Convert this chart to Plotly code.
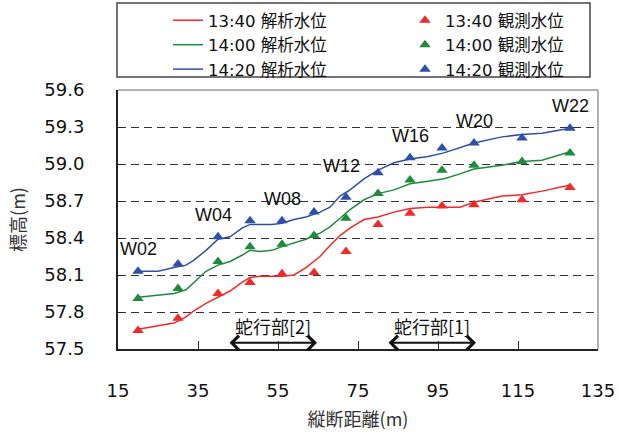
import plotly.graph_objects as go

# Longitudinal distance of the computed profile (m)
calc_x = [20, 25, 29, 32, 34, 37, 40, 43, 46, 48, 50.5, 53.5, 56, 59, 62, 65.5,
          68, 70.5, 73, 76.5, 80, 84, 88, 92.5, 96.5, 100.5, 104, 111, 116, 121, 128]
# Computed water levels (m)
calc_1340 = [57.66, 57.69, 57.71, 57.76, 57.81, 57.87, 57.92, 57.97, 58.04, 58.08, 58.09,
             58.09, 58.09, 58.10, 58.16, 58.25, 58.34, 58.42, 58.48, 58.55, 58.57, 58.61,
             58.64, 58.65, 58.65, 58.65, 58.69, 58.74, 58.75, 58.78, 58.83]
calc_1400 = [57.92, 57.94, 57.95, 57.98, 58.04, 58.13, 58.18, 58.21, 58.26, 58.30, 58.29,
             58.30, 58.33, 58.36, 58.39, 58.44, 58.49, 58.56, 58.63, 58.71, 58.76, 58.79,
             58.84, 58.86, 58.88, 58.92, 58.96, 58.99, 59.02, 59.03, 59.10]
calc_1420 = [58.13, 58.13, 58.16, 58.18, 58.22, 58.30, 58.39, 58.41, 58.48, 58.51, 58.51,
             58.51, 58.52, 58.55, 58.57, 58.61, 58.65, 58.74, 58.79, 58.88, 58.95, 59.01,
             59.04, 59.06, 59.09, 59.13, 59.17, 59.22, 59.24, 59.25, 59.29]

# Gauge stations and observed water levels (m)
obs_x = [20, 30, 40, 48, 56, 64, 72, 80, 88, 96, 104, 116, 128]
obs_1340 = [57.65, 57.75, 57.95, 58.04, 58.11, 58.12, 58.29, 58.51, 58.60, 58.66, 58.67, 58.71, 58.81]
obs_1400 = [57.91, 57.99, 58.21, 58.33, 58.35, 58.42, 58.56, 58.76, 58.87, 58.95, 58.99, 59.02, 59.09]
obs_1420 = [58.13, 58.19, 58.41, 58.54, 58.54, 58.61, 58.73, 58.93, 59.05, 59.13, 59.17, 59.21, 59.29]

# Labelled stations
station_names = ["W02", "W04", "W08", "W12", "W16", "W20", "W22"]
station_x = [20, 40, 56, 72, 88, 104, 128]
station_level = [58.13, 58.41, 58.54, 58.73, 59.05, 59.17, 59.29]

# Meandering reaches
meander_names = ["蛇行部[2]", "蛇行部[1]"]
meander_start = [42.5, 82.25]
meander_end = [64.75, 104.5]

x_ticks = [15, 35, 55, 75, 95, 115, 135]
y_ticks = [57.5, 57.8, 58.1, 58.4, 58.7, 59.0, 59.3, 59.6]

RED, GREEN, BLUE = "#ee2a2a", "#1f8a3e", "#2f4fa8"
FONT = "DejaVu Sans, Noto Sans CJK JP"
CJK = "Noto Sans CJK JP, DejaVu Sans"

W, H = 619, 436
ML, MR, MT, MB = 118, 21, 90, 87
PW, PH = W - ML - MR, H - MT - MB


def px_x(p):
    """Horizontal page pixel -> paper fraction."""
    return (p - ML) / PW


def px_y(p):
    """Vertical page pixel -> paper fraction."""
    return (H - MB - p) / PH


fig = go.Figure()
series = [("13:40", calc_1340, obs_1340, RED),
          ("14:00", calc_1400, obs_1400, GREEN),
          ("14:20", calc_1420, obs_1420, BLUE)]
for t, calc, obs, col in series:
    fig.add_trace(go.Scatter(x=calc_x, y=calc, mode="lines", name=f"{t} 解析水位",
                             legend="legend", legendgroup=f"c{t}",
                             line=dict(color=col, width=1.5)))
for t, calc, obs, col in series:
    fig.add_trace(go.Scatter(x=obs_x, y=obs, mode="markers", name=f"{t} 観測水位",
                             legend="legend2", legendgroup=f"o{t}",
                             marker=dict(symbol="triangle-up", size=10, color=col)))

annotations = []
for name, sx, sy in zip(station_names, station_x, station_level):
    lift = 31 if name == "W12" else 22
    nudge = -5 if name in ("W12", "W04") else 0
    annotations.append(dict(x=sx, y=sy, xref="x", yref="y", text=name, showarrow=False,
                            yshift=lift, xshift=nudge,
                            font=dict(family="Liberation Sans Narrow, Liberation Sans",
                                      size=18, color="#111")))
for name, x0, x1 in zip(meander_names, meander_start, meander_end):
    annotations.append(dict(x=x1, y=57.55, ax=x0, ay=57.55, xref="x", yref="y",
                            axref="x", ayref="y", text="", showarrow=True,
                            arrowhead=4, startarrowhead=4, arrowside="end+start",
                            arrowsize=1.4, startarrowsize=1.4, arrowwidth=2,
                            arrowcolor="#111"))
    annotations.append(dict(x=(x0 + x1) / 2, y=57.55, xref="x", yref="y", text=name,
                            showarrow=False, yshift=17,
                            font=dict(family=CJK, size=18, color="#111")))

legend_common = dict(orientation="v", yanchor="top", xanchor="left", y=px_y(3),
                     traceorder="normal", tracegroupgap=2,
                     font=dict(family=FONT, size=16.5, color="#111"),
                     bgcolor="rgba(0,0,0,0)", borderwidth=0)

shapes = [
    # legend frame
    dict(type="rect", xref="paper", yref="paper",
         x0=px_x(117), x1=px_x(590), y0=px_y(77), y1=px_y(3),
         line=dict(color="#444", width=1.5), fillcolor="rgba(0,0,0,0)"),
    # top and right edges of the plotting area
    dict(type="line", xref="paper", yref="paper", x0=0, x1=1, y0=1, y1=1,
         line=dict(color="#999", width=1.5)),
    dict(type="line", xref="paper", yref="paper", x0=1, x1=1, y0=0, y1=1,
         line=dict(color="#999", width=1.5)),
]

fig.update_layout(
    width=W, height=H,
    margin=dict(l=ML, r=MR, t=MT, b=MB, autoexpand=False),
    paper_bgcolor="white", plot_bgcolor="white",
    font=dict(family=FONT, size=18, color="#111"),
    showlegend=True,
    legend=dict(x=px_x(168), **legend_common),
    legend2=dict(x=px_x(405), **legend_common),
    shapes=shapes,
    annotations=annotations,
)
fig.update_xaxes(range=[15, 135], tickvals=x_ticks, ticktext=[str(v) for v in x_ticks],
                 ticks="inside", ticklen=8, tickcolor="#222", showgrid=False,
                 showline=True, linecolor="#222", linewidth=2, mirror=False,
                 ticklabelstandoff=24, zeroline=False, automargin=False,
                 title=dict(text="縦断距離(m)", font=dict(family=CJK, size=18, color="#333"),
                            standoff=14))
fig.update_yaxes(range=[57.5, 59.6], tickvals=y_ticks, ticktext=[f"{v:.1f}" for v in y_ticks],
                 ticks="inside", ticklen=4, tickcolor="#222",
                 showgrid=True, gridcolor="#333", griddash="8px,5px", gridwidth=1,
                 showline=True, linecolor="#222", linewidth=2, mirror=False,
                 ticklabelstandoff=28, zeroline=False, automargin=False,
                 title=dict(text="標高(m)", font=dict(family=CJK, size=18, color="#333"),
                            standoff=14))

fig.write_html("out.html")
